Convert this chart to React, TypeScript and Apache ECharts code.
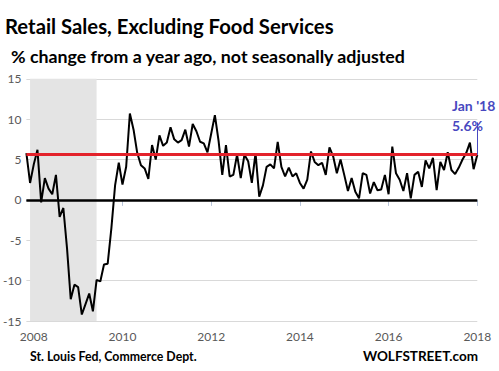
import React, { useEffect, useRef } from 'react';
import * as echarts from 'echarts';

// ---- data (monthly, % change y/y, starting Nov 2007) ----
const startYear = 2007;
const startMonth = 11;
const yoy2007 = [5.8, 2.1];
const yoy2008 = [4.4, 6.2, -0.3, 2.7, 1.4, 0.7, 3.1, -2.1, -1.0, -6.0, -12.3, -10.5];
const yoy2009 = [-10.8, -14.2, -12.9, -11.6, -13.8, -9.9, -10.1, -8.0, -7.9, -3.5, 1.8, 4.6];
const yoy2010 = [1.9, 4.1, 10.7, 8.7, 5.8, 4.3, 3.9, 2.6, 6.8, 5.0, 8.0, 6.7];
const yoy2011 = [7.1, 9.0, 7.5, 7.1, 7.4, 8.7, 6.6, 9.4, 8.5, 7.2, 7.0, 5.9];
const yoy2012 = [8.2, 10.5, 7.3, 3.1, 6.8, 2.9, 3.1, 5.6, 2.7, 5.6, 4.8, 2.1];
const yoy2013 = [5.8, 0.4, 1.8, 4.1, 4.4, 3.9, 7.2, 4.1, 2.9, 4.0, 2.9, 3.3];
const yoy2014 = [2.1, 1.4, 2.5, 6.0, 4.7, 4.3, 4.6, 3.1, 6.5, 5.4, 3.3, 5.0];
const yoy2015 = [3.1, 1.1, 2.7, 1.0, 0.2, 3.3, 3.1, 0.8, 2.2, 1.2, 1.3, 3.1];
const yoy2016 = [0.7, 6.6, 3.3, 2.5, 1.1, 3.3, 0.2, 3.1, 3.5, 1.6, 4.9, 3.9];
const yoy2017 = [5.2, 1.2, 4.7, 3.7, 5.9, 3.7, 3.2, 4.0, 5.0, 5.8, 7.1, 3.8];
const yoy2018 = [5.6];

const yoyValues = [
  ...yoy2007, ...yoy2008, ...yoy2009, ...yoy2010, ...yoy2011, ...yoy2012,
  ...yoy2013, ...yoy2014, ...yoy2015, ...yoy2016, ...yoy2017, ...yoy2018,
];

const months: string[] = yoyValues.map((_, i) => {
  const m = startMonth - 1 + i;
  const y = startYear + Math.floor(m / 12);
  const mm = (m % 12) + 1;
  return `${y}-${String(mm).padStart(2, '0')}`;
});

const yMin = -15;
const yMax = 15;
const yInterval = 5;
const referenceLevel = 5.6;
const leaderTop = 9.6;
const recessionStart = '2007-12';
const recessionEnd = '2009-06';
const latestMonth = months[months.length - 1];

const titleText = 'Retail Sales, Excluding Food Services';
const subtitleText = '% change from a year ago, not seasonally adjusted';
const sourceText = 'St. Louis Fed, Commerce Dept.';
const brandText = 'WOLFSTREET.com';
const latestLabel = "Jan '18";
const latestValueLabel = '5.6%';

const isYearTick = (v: string) => v.endsWith('-01') && Number(v.slice(0, 4)) % 2 === 0;

const FONT = 'Lato, "Open Sans", sans-serif';
const BLUE = '#4848c0';

export default function App() {
  const ref = useRef<HTMLDivElement>(null);

  useEffect(() => {
    if (!ref.current) return;
    const chart = echarts.init(ref.current, undefined, { renderer: 'svg' });
    chart.setOption({
      animation: false,
      backgroundColor: '#ffffff',
      grid: { left: 23.5, right: 21.7, top: 78.8, bottom: 50, containLabel: false },
      xAxis: {
        type: 'category',
        data: months,
        boundaryGap: false,
        axisLine: { show: true, lineStyle: { color: '#b9c5da', width: 1 } },
        axisTick: {
          show: true,
          interval: (_i: number, v: string) => isYearTick(v),
          length: 6,
          lineStyle: { color: '#b9c5da' },
        },
        axisLabel: {
          interval: (_i: number, v: string) => isYearTick(v),
          formatter: (v: string) => v.slice(0, 4),
          color: '#595959',
          fontSize: 12,
          fontFamily: FONT,
          margin: 9,
        },
        splitLine: { show: false },
      },
      yAxis: {
        type: 'value',
        min: yMin,
        max: yMax,
        interval: yInterval,
        axisLine: { show: false },
        axisTick: { show: false },
        axisLabel: { color: '#595959', fontSize: 12, fontFamily: FONT, margin: 5 },
        splitLine: { lineStyle: { color: '#d9d9d9', width: 1 } },
      },
      series: [
        {
          type: 'line',
          data: yoyValues,
          symbol: 'none',
          lineStyle: { color: '#000000', width: 2 },
          markArea: {
            silent: true,
            itemStyle: { color: '#e4e4e4' },
            data: [[{ xAxis: recessionStart }, { xAxis: recessionEnd }]],
          },
          markLine: {
            silent: true,
            symbol: 'none',
            label: { show: false },
            data: [
              { yAxis: 0, lineStyle: { color: '#000000', width: 2.5, type: 'solid' } },
              { yAxis: referenceLevel, lineStyle: { color: '#e3222b', width: 3, type: 'solid' } },
              [
                { coord: [latestMonth, referenceLevel], lineStyle: { color: BLUE, width: 1, type: 'solid' } },
                { coord: [latestMonth, leaderTop] },
              ],
            ],
          },
        },
      ],
      graphic: [
        {
          type: 'text', x: 5, y: 26,
          style: { text: titleText, fill: '#000', font: `bold 20.3px ${FONT}`, textVerticalAlign: 'middle' },
        },
        {
          type: 'text', x: 11, y: 55.5,
          style: { text: subtitleText, fill: '#000', font: `bold 17.8px ${FONT}`, textVerticalAlign: 'middle' },
        },
        {
          type: 'text', x: 30, y: 356,
          style: { text: sourceText, fill: '#000', font: `bold 12.3px ${FONT}`, textVerticalAlign: 'middle' },
        },
        {
          type: 'text', x: 478, y: 356,
          style: { text: brandText, fill: '#000', font: `bold 13.5px ${FONT}`, textAlign: 'right', textVerticalAlign: 'middle' },
        },
        {
          type: 'text', x: 452, y: 105,
          style: { text: latestLabel, fill: BLUE, font: `bold 14px ${FONT}`, textVerticalAlign: 'middle' },
        },
        {
          type: 'text', x: 452, y: 125,
          style: { text: latestValueLabel, fill: BLUE, font: `bold 14px ${FONT}`, textVerticalAlign: 'middle' },
        },
      ],
    });
    return () => chart.dispose();
  }, []);

  return (
    <div
      ref={ref}
      style={{ position: 'fixed', left: 0, top: 0, width: 499, height: 371, background: '#fff' }}
    />
  );
}
